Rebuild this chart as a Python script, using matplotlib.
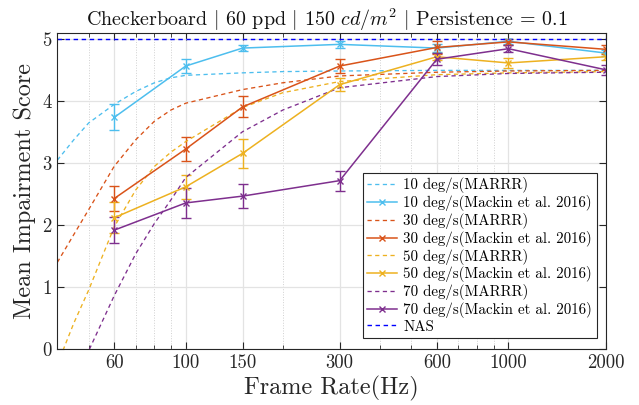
import numpy as np
import matplotlib
matplotlib.use("Agg")
import matplotlib.pyplot as plt
from matplotlib.lines import Line2D
from matplotlib.ticker import FixedLocator, NullFormatter

# MATLAB-like Computer Modern look
plt.rcParams['font.family'] = ['cmr10', 'DejaVu Serif']
plt.rcParams['mathtext.fontset'] = 'cm'
plt.rcParams['axes.formatter.use_mathtext'] = True

# ---- data ----
frame_rates = [60, 100, 150, 300, 600, 1000, 2000]

mackin_10 = [3.74, 4.57, 4.86, 4.92, 4.86, 4.97, 4.78]
err_10 = [0.21, 0.12, 0.05, 0.06, 0.06, 0.04, 0.05]
mackin_30 = [2.43, 3.23, 3.91, 4.57, 4.87, 4.96, 4.84]
err_30 = [0.20, 0.19, 0.17, 0.12, 0.10, 0.05, 0.07]
mackin_50 = [2.12, 2.62, 3.16, 4.27, 4.72, 4.62, 4.72]
err_50 = [0.25, 0.19, 0.23, 0.10, 0.06, 0.08, 0.06]
mackin_70 = [1.92, 2.36, 2.47, 2.72, 4.68, 4.85, 4.51]
err_70 = [0.21, 0.24, 0.19, 0.16, 0.10, 0.06, 0.08]

model_f = [40, 45, 50, 60, 70, 80, 90, 100, 150, 200, 300, 600, 1000, 2000]
marrr_10 = [3.05, 3.38, 3.65, 3.95, 4.16, 4.30, 4.38, 4.42, 4.46, 4.48, 4.49, 4.50, 4.50, 4.50]
marrr_30 = [1.40, 1.85, 2.25, 2.95, 3.38, 3.68, 3.86, 3.97, 4.19, 4.30, 4.41, 4.47, 4.49, 4.50]
marrr_50 = [-0.25, 0.42, 0.95, 1.97, 2.57, 2.95, 3.18, 3.35, 3.90, 4.14, 4.32, 4.43, 4.46, 4.48]
marrr_70 = [-1.25, -0.62, -0.03, 0.86, 1.54, 2.03, 2.41, 2.77, 3.51, 3.86, 4.22, 4.40, 4.45, 4.47]
nas_level = 5.0

speeds = ['10', '30', '50', '70']
colors = ['#4DBEEE', '#D95319', '#EDB120', '#7E2F8E']
marrr = [marrr_10, marrr_30, marrr_50, marrr_70]
mackin = [mackin_10, mackin_30, mackin_50, mackin_70]
errs = [err_10, err_30, err_50, err_70]

fig = plt.figure(figsize=(6.39, 4.05), dpi=100)
ax = fig.add_axes([0.0897, 0.138, 0.858, 0.780])

dash = (3.2, 2.6)
handles, labels = [], []
for s, c, m, d, e in zip(speeds, colors, marrr, mackin, errs):
    ax.plot(model_f, m, '--', color=c, lw=0.95, dashes=dash)
    ax.errorbar(frame_rates, d, yerr=e, color=c, lw=1.1, marker='x', ms=5,
                mew=1.0, capsize=3.5, elinewidth=1.0)
    handles.append(Line2D([], [], color=c, ls='--', lw=0.95, dashes=dash))
    labels.append(f'{s} deg/s(MARRR)')
    handles.append(Line2D([], [], color=c, lw=1.1, marker='x', ms=4, mew=1.0))
    labels.append(f'{s} deg/s(Mackin et al. 2016)')

ax.axhline(nas_level, color='#0000FF', ls='--', lw=1.0, dashes=dash)
handles.append(Line2D([], [], color='#0000FF', ls='--', lw=1.0, dashes=dash))
labels.append('NAS')

ax.set_xscale('log')
ax.set_xlim(40, 2000)
ax.set_ylim(0, 5.1)
ax.xaxis.set_major_locator(FixedLocator(frame_rates))
ax.set_xticklabels([str(f) for f in frame_rates])
ax.xaxis.set_minor_locator(FixedLocator([40, 50, 70, 80, 90, 200, 400, 500, 700, 800, 900]))
ax.xaxis.set_minor_formatter(NullFormatter())
ax.set_yticks([0, 1, 2, 3, 4, 5])

ax.grid(True, which='major', color='#e3e3e3', lw=0.9)
ax.grid(True, which='minor', axis='x', color='#d0d0d0', ls=':', lw=0.7)
ax.set_axisbelow(True)

ax.tick_params(which='both', direction='in', top=True, right=True,
               labelsize=13.5, color='#262626', labelcolor='#262626')
ax.tick_params(which='major', length=5)
ax.tick_params(which='minor', length=3)
for sp in ax.spines.values():
    sp.set_color('#262626')
    sp.set_linewidth(0.8)

ax.set_xlabel('Frame Rate(Hz)', fontsize=17.5, color='#262626', labelpad=3)
ax.set_ylabel('Mean Impairment Score', fontsize=17.5, color='#262626', labelpad=4)
ax.set_title(r'Checkerboard $|$ 60 ppd $|$ 150 $cd/m^2$ $|$ Persistence = 0.1',
             fontsize=14.4, color='#111111', pad=5, x=0.492)

leg = ax.legend(handles, labels, loc='lower right', bbox_to_anchor=(0.984, 0.035),
                fontsize=10.8, fancybox=False, framealpha=1, edgecolor='#262626',
                handlelength=2.0, handletextpad=0.4, labelspacing=0.12,
                borderpad=0.3, borderaxespad=0)
leg.get_frame().set_linewidth(0.8)

fig.savefig('out.png', dpi=100)
